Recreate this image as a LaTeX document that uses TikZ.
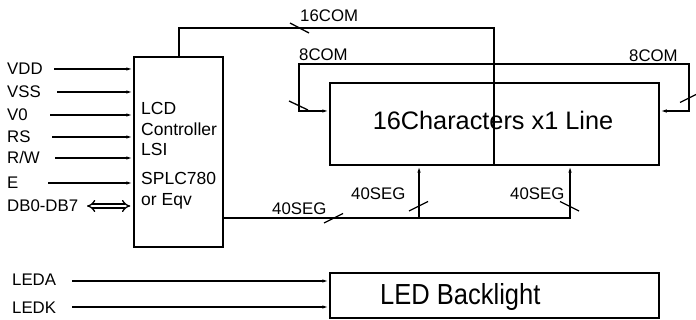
\documentclass[tikz,border=0pt]{standalone}
\usepackage{fontspec}
\setmainfont{Liberation Sans}
\newfontfamily\narrowsans[FakeStretch=0.88]{Liberation Sans}
\usetikzlibrary{arrows.meta}
\tikzset{
  wire/.style={line width=1.3pt, line cap=rect},
  sig/.style={line width=1.3pt, -{Latex[length=7pt,width=3.4pt]}},
  box/.style={draw, line width=1.5pt, rectangle, inner sep=0pt},
  lbl/.style={inner sep=0pt, anchor=base west, font=\fontsize{16.8}{19}\selectfont},
  ctltxt/.style={inner sep=0pt, anchor=base west, font=\fontsize{17.5}{20}\selectfont},
  slash/.style={line width=1.3pt}
}
\begin{document}
\begin{tikzpicture}[x=1pt,y=-1pt]
\useasboundingbox (0,0) rectangle (696,320);
% controller
\node[box, minimum width=89pt, minimum height=190pt] (ctrl) at (178.5,152) {};
\node[ctltxt] (t1) at (141,115) {LCD};
\node[ctltxt] (t2) at (141,136) {Controller};
\node[ctltxt] (t3) at (141,156) {LSI};
\node[ctltxt] (t4) at (141,185) {SPLC780};
\node[ctltxt] (t5) at (141,206) {or Eqv};
% LCD panel
\node[box, minimum width=329pt, minimum height=82pt] (lcd) at (494.5,124) {};
% backlight
\node[box, minimum width=329pt, minimum height=45pt] (bl) at (494.5,295.5) {};
\node[inner sep=0pt, anchor=base west, font=\narrowsans\fontsize{29}{32}\selectfont] (blt) at (380,305) {LED Backlight};
% input labels
\node[lbl] (lVDD) at (7,75) {VDD};
\node[lbl] (lVSS) at (7,98) {VSS};
\node[lbl] (lV0) at (7,121) {V0};
\node[lbl] (lRS) at (7,143) {RS};
\node[lbl] (lRW) at (7,164) {R/W};
\node[lbl] (lE) at (7,189) {E};
\node[lbl] (lDB) at (7,212) {DB0-DB7};
\node[lbl] (lLEDA) at (12,286) {LEDA};
\node[lbl] (lLEDK) at (12,313) {LEDK};
\coordinate (sVDD) at (54,69);
\coordinate (sVSS) at (57,92);
\coordinate (sV0) at (50,115);
\coordinate (sRS) at (52,137);
\coordinate (sRW) at (55,158);
\coordinate (sE) at (48,183);
\coordinate (sDB) at (87,206);
\coordinate (sLEDA) at (72,281);
\coordinate (sLEDK) at (72,307);
\foreach \s in {sVDD,sVSS,sV0,sRS,sRW,sE}
  \draw[sig] (\s) -- (\s -| ctrl.west);
\draw[line width=1.3pt, double, double distance=2.8pt, {Implies[length=7pt]}-{Implies[length=7pt]}] (sDB) -- ([xshift=-3pt]sDB -| ctrl.west);
\draw[sig] (sLEDA) -- (sLEDA -| bl.west);
\draw[sig] (sLEDK) -- (sLEDK -| bl.west);
% 16COM
\coordinate (c16a) at (179,28);
\coordinate (c16b) at (494,28);
\draw[wire] (c16a |- ctrl.north) -- (c16a) -- (c16b) -- (c16b |- lcd.south);
\draw[slash] (290,23) -- (309,33);
\node[lbl] (l16) at (300,22) {16COM};
% 8COM bus
\coordinate (bL) at (299,64);
\coordinate (bR) at (689,64);
\coordinate (aL) at (299,111);
\coordinate (aR) at (689,111);
\draw[wire] (aL) -- (bL) -- (bR) -- (aR);
\draw[sig] (aL) -- (aL -| lcd.west);
\draw[sig] (aR) -- (aR -| lcd.east);
\draw[slash] (289,101) -- (308,110);
\draw[slash] (680,102.5) -- (698,93.5);
\node[lbl] (l8a) at (299,61) {8COM};
\node[lbl] (l8b) at (629,62) {8COM};
% 40SEG
\coordinate (s0) at (223,218);
\coordinate (s1) at (419,218);
\coordinate (s2) at (570,218);
\draw[wire] (s0 -| ctrl.east) -- (s2);
\draw[sig] (s1) -- (s1 |- lcd.south);
\draw[sig] (s2) -- (s2 |- lcd.south);
\draw[slash] (324,223) -- (343,213.5);
\draw[slash] (409,211) -- (428,201.5);
\draw[slash] (560,201.5) -- (579,211);
\node[lbl] (l40a) at (272,215) {40SEG};
\node[lbl] (l40b) at (351,200) {40SEG};
\node[lbl] (l40c) at (510,200) {40SEG};
% panel text
\node[inner sep=0pt, anchor=base, font=\fontsize{25.3}{28}\selectfont] (lcdt) at (493,130) {16Characters x1 Line};
\end{tikzpicture}
\end{document}
